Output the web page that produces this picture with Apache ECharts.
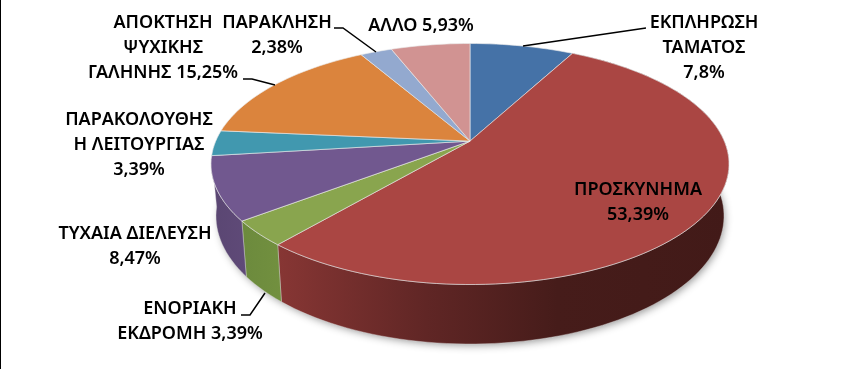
<!DOCTYPE html>
<html>
<head>
<meta charset="utf-8">
<style>
  html, body { margin: 0; padding: 0; background: #fff; }
  #chart { width: 866px; height: 369px; }
</style>
<script src="https://cdn.jsdelivr.net/npm/echarts@6/dist/echarts.min.js"></script>
</head>
<body>
<div id="chart"></div>
<script>
const categories = ['ΕΚΠΛΗΡΩΣΗ ΤΑΜΑΤΟΣ', 'ΠΡΟΣΚΥΝΗΜΑ', 'ΕΝΟΡΙΑΚΗ ΕΚΔΡΟΜΗ', 'ΤΥΧΑΙΑ ΔΙΕΛΕΥΣΗ', 'ΠΑΡΑΚΟΛΟΥΘΗΣΗ ΛΕΙΤΟΥΡΓΙΑΣ', 'ΑΠΟΚΤΗΣΗ ΨΥΧΙΚΗΣ ΓΑΛΗΝΗΣ', 'ΠΑΡΑΚΛΗΣΗ', 'ΑΛΛΟ'];
const values = [7.8, 53.39, 3.39, 8.47, 3.39, 15.25, 2.38, 5.93];
const labelTexts = [
  'ΕΚΠΛΗΡΩΣΗ\nΤΑΜΑΤΟΣ\n7,8%',
  'ΠΡΟΣΚΥΝΗΜΑ\n53,39%',
  'ΕΝΟΡΙΑΚΗ\nΕΚΔΡΟΜΗ 3,39%',
  'ΤΥΧΑΙΑ ΔΙΕΛΕΥΣΗ\n8,47%',
  'ΠΑΡΑΚΟΛΟΥΘΗΣ\nΗ ΛΕΙΤΟΥΡΓΙΑΣ\n3,39%',
  'ΑΠΟΚΤΗΣΗ\nΨΥΧΙΚΗΣ\nΓΑΛΗΝΗΣ 15,25%',
  'ΠΑΡΑΚΛΗΣΗ\n2,38%',
  'ΑΛΛΟ 5,93%'
];

const topColors = ['#4572a7', '#aa4643', '#89a54e', '#71588f', '#4198af', '#db843d', '#93a9cf', '#d19392'];
// gradient stops of the side walls, left to right. Only the slices on the
// front of the pie have a visible wall
const wallStops = [
  null,
  [[0, '#873634'], [0.33, '#602625'], [0.62, '#461c1a'], [1, '#421a18']],
  [[0, '#6c8a3d'], [1, '#72903f']],
  [[0, '#5a4672'], [1, '#5f4a78']],
  null, null, null, null
];

// top face and bottom rim of the tilted pie, and the perspective factor that
// moves the hub of the slices above the centre of the ellipse
const topRim = { cx: 470, cy: 164, rx: 259, ry: 120.5 };
const bottomRim = { cx: 470, cy: 216, rx: 254, ry: 128 };
const perspective = 0.825;

const labelPos = [
  [704, 10], [638, 177], [190, 296], [135, 221], [139, 107], [163, 10], [277, 10], [421, 13]
];
const leaders = [
  [[646, 28], [523, 46]],
  [[241, 315], [250, 315], [265, 293]],
  [[243, 79], [252, 79], [275, 85]],
  [[334, 28], [343, 28], [376, 52]]
];

const total = values.reduce((a, b) => a + b, 0);
const starts = values.map((v, i) => values.slice(0, i).reduce((a, b) => a + b, 0) / total);

// angle on the picture's ellipse for a true pie angle
function rimAngle(frac) {
  const half = frac * Math.PI;
  if (Math.abs(frac - 0.5) < 1e-6) return Math.PI;
  let t = 2 * Math.atan(perspective * Math.tan(half));
  if (t < 0) t += Math.PI * 2;
  if (frac >= 1) t = Math.PI * 2;
  return t;
}
function rimPoint(rim, t) {
  return [rim.cx + rim.rx * Math.sin(t), rim.cy - rim.ry * Math.cos(t)];
}
function arc(rim, f0, f1) {
  const pts = [];
  const n = Math.max(4, Math.ceil((f1 - f0) * 200));
  for (let i = 0; i <= n; i++) {
    pts.push(rimPoint(rim, rimAngle(f0 + (f1 - f0) * i / n)));
  }
  return pts;
}
const hubY = rimPoint(topRim, rimAngle(0.25))[1];

const seriesData = values.map((v, i) => ({ name: categories[i], value: [v, starts[i]] }));

function renderWall(params, api) {
  const i = params.dataIndex;
  if (!wallStops[i]) return null;
  const f0 = api.value(1);
  const f1 = f0 + api.value(0) / total;
  const top = arc(topRim, f0, f1);
  const bottom = arc(bottomRim, f0, f1).reverse();
  return {
    type: 'polygon',
    shape: { points: top.concat(bottom) },
    style: {
      fill: new echarts.graphic.LinearGradient(0, 0, 1, 0, wallStops[i].map(s => ({ offset: s[0], color: s[1] }))),
      stroke: 'rgba(225,225,225,0.55)',
      lineWidth: 0.7
    }
  };
}

function renderTop(params, api) {
  const i = params.dataIndex;
  const f0 = api.value(1);
  const f1 = f0 + api.value(0) / total;
  return {
    type: 'polygon',
    shape: { points: [[topRim.cx, hubY]].concat(arc(topRim, f0, f1)) },
    style: { fill: topColors[i], stroke: 'rgba(235,235,235,0.8)', lineWidth: 0.8 }
  };
}

const labelFont = '600 18px "Noto Sans"';
const graphics = [
  { type: 'rect', shape: { x: 0, y: 0, width: 1, height: 369 }, style: { fill: '#000' }, z: 10 }
];
labelTexts.forEach((text, i) => {
  graphics.push({
    type: 'text', x: labelPos[i][0], y: labelPos[i][1], z: 20,
    style: { text, font: labelFont, fill: '#000', align: 'center', verticalAlign: 'top', lineHeight: 25 }
  });
});
leaders.forEach(points => {
  graphics.push({
    type: 'polyline', z: 20, shape: { points },
    style: { stroke: '#000', lineWidth: 1.5, fill: null }
  });
});

const myChart = echarts.init(document.getElementById('chart'), null, { renderer: 'canvas' });
myChart.setOption({
  animation: false,
  backgroundColor: '#fff',
  tooltip: { show: false },
  graphic: graphics,
  series: [
    {
      name: 'shadow',
      type: 'custom',
      coordinateSystem: 'none',
      silent: true,
      z: 1,
      data: [0],
      renderItem() {
        return {
          type: 'ellipse',
          shape: { cx: bottomRim.cx, cy: bottomRim.cy, rx: bottomRim.rx - 2, ry: bottomRim.ry - 2 },
          style: { fill: '#888', shadowBlur: 8, shadowColor: 'rgba(0,0,0,0.45)', shadowOffsetX: 2, shadowOffsetY: 3 }
        };
      }
    },
    { name: 'walls', type: 'custom', coordinateSystem: 'none', silent: true, z: 2, data: seriesData, renderItem: renderWall },
    { name: 'tops', type: 'custom', coordinateSystem: 'none', silent: true, z: 3, data: seriesData, renderItem: renderTop }
  ]
});
window.addEventListener('resize', function () {
  myChart.resize();
});
</script>
</body>
</html>
